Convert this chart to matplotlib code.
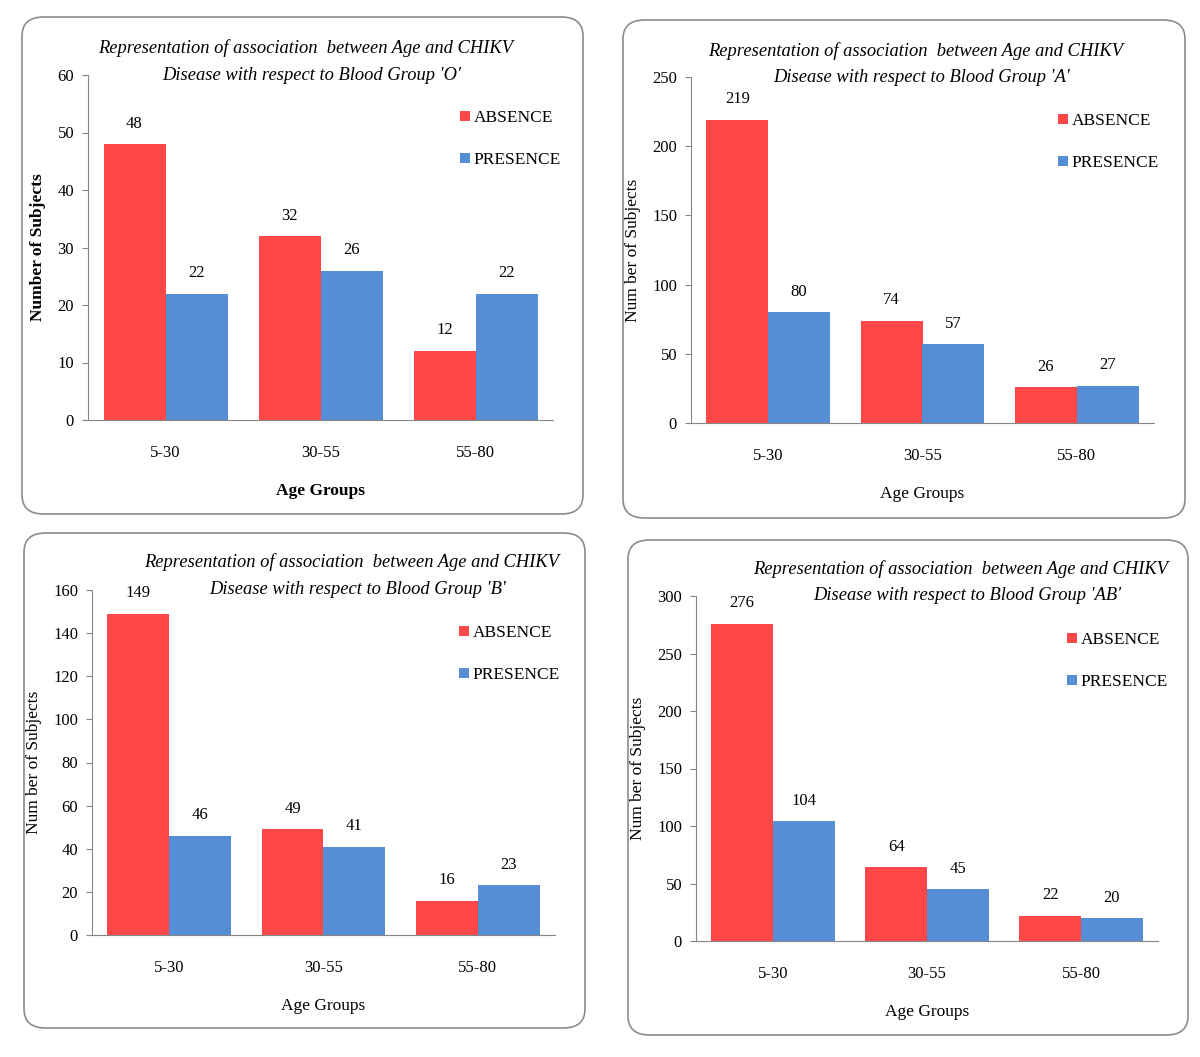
import numpy as np
import matplotlib.pyplot as plt
from matplotlib.patches import FancyBboxPatch

plt.rcParams['font.family'] = ['Liberation Serif', 'DejaVu Serif']

# --- data ---
age_groups = ['5-30', '30-55', '55-80']
groups = ["'O'", "'A'", "'B'", "'AB'"]
absence = [[48, 32, 12], [219, 74, 26], [149, 49, 16], [276, 64, 22]]
presence = [[22, 26, 22], [80, 57, 27], [46, 41, 23], [104, 45, 20]]
ymax = [60, 250, 160, 300]
ystep = [10, 50, 20, 50]

RED = '#FF4747'
BLUE = '#558ED5'

W, H = 1200, 1057
fig = plt.figure(figsize=(W / 100, H / 100), dpi=100)

# layout in pixels: box (x0, y0, x1, y1), axes (left, right, top, bottom),
# title centre (x, y of first line), legend top-left (x, y)
boxes = [(22, 17, 583, 514), (623, 20, 1185, 518), (24, 533, 585, 1028), (628, 540, 1188, 1035)]
axes_px = [(88, 553, 75, 420), (691, 1154, 77, 423), (92, 555, 590, 935), (696, 1158, 596, 941)]
titles_px = [(306, 48), (916, 51), (352, 562), (961, 569)]
legend_px = [(460, 110), (1058, 113), (459, 625), (1067, 632)]
bold_labels = [True, False, False, False]


def fx(x):
    return x / W


def fy(y):
    return 1 - y / H


for i in range(4):
    x0, y0, x1, y1 = boxes[i]
    box = FancyBboxPatch((fx(x0), fy(y1)), fx(x1 - x0), (y1 - y0) / H,
                         boxstyle='round,pad=0,rounding_size=0.018',
                         transform=fig.transFigure, facecolor='white',
                         edgecolor='#8c8c8c', linewidth=1.2, zorder=-5)
    fig.patches.append(box)

    l, r, t, b = axes_px[i]
    ax = fig.add_axes([fx(l), fy(b), fx(r - l), (b - t) / H], zorder=2)
    ax.patch.set_alpha(0)

    x = np.arange(len(age_groups))
    w = 0.4
    b1 = ax.bar(x - w / 2, absence[i], w, color=RED, label='ABSENCE')
    b2 = ax.bar(x + w / 2, presence[i], w, color=BLUE, label='PRESENCE')
    ax.bar_label(b1, padding=9, fontsize=12)
    ax.bar_label(b2, padding=9, fontsize=12)

    ax.set_xlim(-0.5, 2.5)
    ax.set_ylim(0, ymax[i])
    ax.set_yticks(np.arange(0, ymax[i] + 1, ystep[i]))
    ax.set_xticks(x)
    ax.set_xticklabels(age_groups)
    ax.tick_params(axis='x', length=0, pad=18, labelsize=12)
    ax.tick_params(axis='y', length=4, color='#868686', pad=6, labelsize=12)

    for s in ['top', 'right']:
        ax.spines[s].set_visible(False)
    for s in ['left', 'bottom']:
        ax.spines[s].set_color('#868686')

    weight = 'bold' if bold_labels[i] else 'normal'
    ax.set_xlabel('Age Groups', fontsize=12.5, fontweight=weight, labelpad=16)
    ax.set_ylabel('Number of Subjects' if bold_labels[i] else 'Num ber of Subjects',
                  fontsize=12.5, fontweight=weight, labelpad=8)

    # two-line italic title, each line its own text
    tx, ty = titles_px[i]
    fig.text(fx(tx), fy(ty), 'Representation of association  between Age and CHIKV',
             ha='center', va='center', fontsize=13.3, style='italic')
    fig.text(fx(tx + 6), fy(ty + 27), 'Disease with respect to Blood Group ' + groups[i],
             ha='center', va='center', fontsize=13.3, style='italic')

    lx, ly = legend_px[i]
    ax.legend(loc='upper left', bbox_to_anchor=(fx(lx), fy(ly)),
              bbox_transform=fig.transFigure, frameon=False, fontsize=12.5,
              handlelength=0.55, handleheight=0.55, handletextpad=0.25,
              labelspacing=1.5, borderaxespad=0, borderpad=0)

plt.savefig('out.png', dpi=100)
